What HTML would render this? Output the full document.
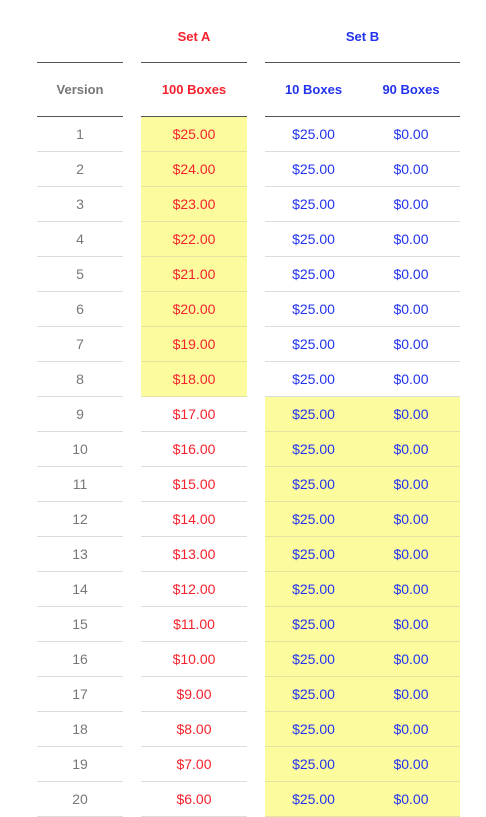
<!DOCTYPE html>
<html><head><meta charset="utf-8"><style>
body{margin:0;width:486px;height:810px;background:#fff;overflow:hidden;font-family:"Liberation Sans",Arial,sans-serif;position:relative}
.a{position:absolute}
.t{position:absolute;text-align:center;font-size:14px;line-height:35px;height:35px}
.h{font-weight:bold;font-size:13px}
</style></head><body>
<div class="t h" style="left:141px;width:106px;top:19px;color:#f5222d">Set A</div>
<div class="t h" style="left:265px;width:195px;top:19px;color:#2233ee">Set B</div>
<div class="a" style="left:37px;width:86px;top:62px;height:1px;background:#555"></div>
<div class="a" style="left:141px;width:106px;top:62px;height:1px;background:#555"></div>
<div class="a" style="left:265px;width:195px;top:62px;height:1px;background:#555"></div>
<div class="t h" style="left:37px;width:86px;top:72px;color:#777">Version</div>
<div class="t h" style="left:141px;width:106px;top:72px;color:#f5222d">100 Boxes</div>
<div class="t h" style="left:265px;width:97px;top:72px;color:#2233ee">10 Boxes</div>
<div class="t h" style="left:362px;width:98px;top:72px;color:#2233ee">90 Boxes</div>
<div class="a" style="left:37px;width:86px;top:116px;height:1px;background:#555"></div>
<div class="a" style="left:141px;width:106px;top:116px;height:1px;background:#555"></div>
<div class="a" style="left:265px;width:195px;top:116px;height:1px;background:#555"></div>
<script>
const versions=[1,2,3,4,5,6,7,8,9,10,11,12,13,14,15,16,17,18,19,20];
const setA=[25,24,23,22,21,20,19,18,17,16,15,14,13,12,11,10,9,8,7,6];
const setB10=[25,25,25,25,25,25,25,25,25,25,25,25,25,25,25,25,25,25,25,25];
const setB90=[0,0,0,0,0,0,0,0,0,0,0,0,0,0,0,0,0,0,0,0];
const highlightA=8;
function add(l,w,top,h,bg,txt,color,name){
  const d=document.createElement('div');
  d.className=txt!==null?'t':'a';
  d.style.cssText=`left:${l}px;width:${w}px;top:${top}px;height:${h}px;`+(bg?`background:${bg};`:'')+(color?`color:${color};`:'');
  if(txt!==null)d.textContent=txt;
  
  
  document.body.appendChild(d);
}
const fmt=v=>'$'+v.toFixed(2);
versions.forEach((v,i)=>{
  const y=117+35*i;
  const inA=i<highlightA;
  if(inA)add(141,106,y,35,'#fcfc9f',null,null,'set-a-highlight');
  else add(265,195,y,35,'#fcfc9f',null,null,'set-b-highlight');
  add(37,86,y,35,null,String(v),'#777','version-cell');
  add(141,106,y,35,null,fmt(setA[i]),'#f5222d','set-a-cell');
  add(265,97,y,35,null,fmt(setB10[i]),'#2233ee','set-b-10-cell');
  add(362,98,y,35,null,fmt(setB90[i]),'#2233ee','set-b-90-cell');
  const ly=y+34;
  add(37,86,ly,1,'#ddd',null,null,'row-rule');
  add(141,106,ly,1,inA?'#e4e4a0':'#ddd',null,null,'row-rule');
  add(265,195,ly,1,inA?'#ddd':'#e4e4a0',null,null,'row-rule');
});
</script>
</body></html>
